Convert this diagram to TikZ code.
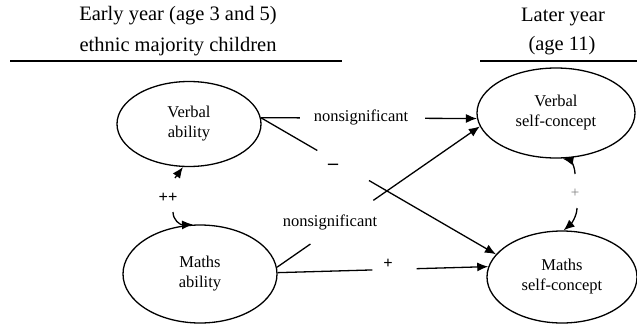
\documentclass[tikz,border=0pt]{standalone}
\usepackage{fontspec}
\setmainfont{Liberation Serif}
\usetikzlibrary{arrows.meta,shapes.geometric}
\tikzset{
  hdr/.style={font=\fontsize{20.5}{24}\selectfont, inner sep=0pt},
  oval/.style={ellipse, draw, line width=1.3pt, inner sep=0pt, align=center,
     font=\fontsize{16.5}{20}\selectfont},
  lbl/.style={font=\fontsize{16.5}{20}\selectfont, inner sep=0pt},
  conn/.style={line width=1.3pt},
  arr/.style={line width=1.3pt, -{Latex[length=11pt,width=9pt]}},
}
\begin{document}
\begin{tikzpicture}[x=1pt,y=-1pt]
\useasboundingbox (0,0) rectangle (637,324);
% headers
\node[hdr] (h1) at (178,16) {Early year (age 3 and 5)};
\node[hdr] (h2) at (178,47) {ethnic majority children};
\node[hdr] (h3) at (563,17) {Later year};
\node[hdr] (h4) at (562,46) {(age 11)};
\draw[line width=1.1pt] (10,61) -- (342,61);
\draw[line width=1.1pt] (480,61) -- (637,61);
% ellipses
\node[oval, minimum width=144pt, minimum height=85pt] (VA) at (189,124) {Verbal\\ability};
\node[oval, minimum width=154pt, minimum height=98pt] (MA) at (200,274) {Maths\\ability};
\node[oval, minimum width=158pt, minimum height=90pt] (VSC) at (556,113) {Verbal\\self-concept};
\node[oval, minimum width=150pt, minimum height=92pt] (MSC) at (562,277) {Maths\\self-concept};
% VA -> VSC
\path (VA.5) -- (VSC.184) coordinate[pos=0.18] (a1) coordinate[pos=0.76] (a2);
\draw[conn] (VA.5) -- (a1);
\draw[arr] (a2) -- (VSC.184);
\node[lbl] (l1) at (361,117) {nonsignificant};
% VA -> MSC
\path (VA.5) -- (MSC.161) coordinate[pos=0.24] (b1) coordinate[pos=0.46] (b2);
\draw[conn] (VA.5) -- (b1);
\draw[arr] (b2) -- (MSC.161);
\node[lbl, font=\fontsize{20}{20}\selectfont\bfseries] (l2) at (333,167) {–};
% MA -> VSC
\path (MA.5) -- (VSC.190) coordinate[pos=0.165] (c1) coordinate[pos=0.475] (c2);
\draw[conn] (MA.5) -- (c1);
\draw[arr] (c2) -- (VSC.190);
\node[lbl] (l3) at (330,222) {nonsignificant};
% MA -> MSC
\path (MA.1.5) -- (MSC.172) coordinate[pos=0.45] (d1) coordinate[pos=0.66] (d2);
\draw[conn] (MA.1.5) -- (d1);
\draw[arr] (d2) -- (MSC.172);
\node[lbl] (l4) at (388,264) {\textbf{+}};
% ++ between abilities
\coordinate (e1) at (175,178);
\coordinate (e2) at (173,212);
\draw[arr] (e1) -- (VA.262);
\draw[arr] (e2) .. controls (173,220) and (180,225) .. (MA.98);
\node[lbl] (l5) at (168,198) {\textbf{++}};
% + between self-concepts
\coordinate (f1) at (575,174);
\coordinate (f2) at (577,208);
\draw[arr] (f1) .. controls (575,166) and (570,160) .. (VSC.278);
\draw[arr] (f2) .. controls (577,216) and (571,224) .. (MSC.88);
\node[lbl, text=gray, font=\fontsize{15}{16}\selectfont] (l6) at (575,193) {+};
\end{tikzpicture}
\end{document}
